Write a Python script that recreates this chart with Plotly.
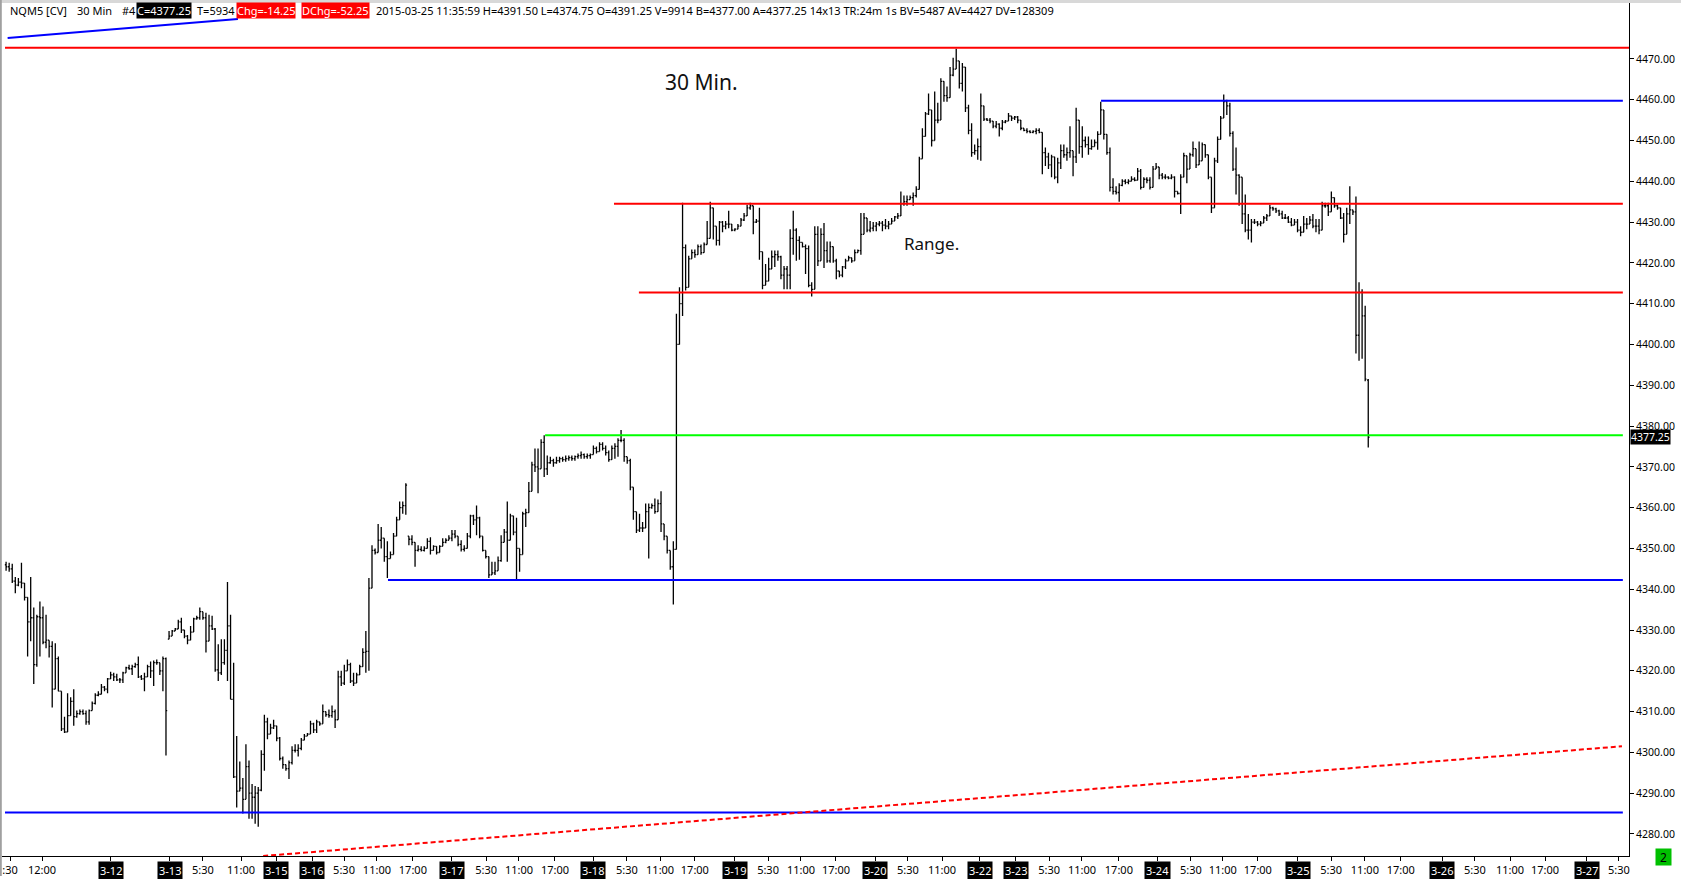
import plotly.graph_objects as go

# ---------------- data (30-min bars, index 1..444) ----------------
highs = [
4346.75,4346.5,4346.25,4343.0,4342.75,4346.5,4341.5,4338.0,4343.0,4335.5,
4333.75,4337.0,4335.75,4333.75,4327.5,4327.25,4326.75,4323.5,4315.0,4308.75,
4314.5,4313.5,4315.5,4310.25,4310.5,4310.5,4310.25,4310.5,4312.5,4314.5,
4315.0,4316.75,4316.25,4318.25,4319.75,4319.5,4319.25,4318.25,4319.75,4321.0,
4321.5,4321.5,4322.0,4323.5,4319.0,4319.5,4321.5,4322.25,4322.5,4322.75,
4322.0,4323.5,4323.25,4329.75,4330.0,4330.5,4332.5,4333.0,4330.0,4328.75,
4331.0,4333.0,4333.5,4335.5,4334.5,4334.25,4333.75,4333.5,4330.5,4326.5,
4327.75,4327.75,4341.75,4333.75,4322.0,4304.0,4297.75,4293.75,4302.0,4298.0,
4292.25,4291.75,4291.5,4300.5,4309.25,4308.5,4307.0,4308.0,4306.5,4303.75,
4299.0,4297.0,4298.0,4301.5,4302.0,4302.0,4303.5,4304.5,4304.75,4307.75,
4307.25,4308.0,4307.5,4311.75,4310.0,4310.5,4311.5,4310.5,4320.0,4320.0,
4321.5,4322.75,4322.0,4319.5,4319.5,4321.5,4325.5,4329.75,4342.75,4350.75,
4350.0,4356.0,4355.25,4352.5,4351.75,4349.25,4353.75,4357.75,4361.5,4361.5,
4366.0,4353.0,4353.25,4351.5,4350.75,4350.5,4350.5,4352.5,4352.75,4350.75,
4350.5,4350.75,4352.5,4352.5,4353.25,4354.5,4354.5,4353.0,4352.0,4350.75,
4353.75,4358.25,4358.25,4360.5,4357.75,4353.0,4349.5,4348.0,4346.75,4346.75,
4348.0,4353.25,4354.75,4361.5,4358.5,4358.0,4357.5,4350.0,4359.0,4359.75,
4366.25,4371.25,4374.5,4374.5,4376.75,4377.75,4372.75,4372.5,4372.0,4372.5,
4372.5,4372.5,4372.75,4372.75,4372.75,4372.75,4373.25,4373.75,4373.25,4373.25,
4373.25,4375.25,4375.0,4376.0,4376.0,4375.25,4374.0,4375.25,4375.75,4377.0,
4379.0,4377.0,4372.5,4372.0,4365.0,4359.0,4358.5,4356.5,4361.0,4361.0,
4361.0,4362.25,4362.0,4364.0,4356.0,4353.0,4349.5,4351.75,4407.5,4414.0,
4434.75,4424.5,4421.75,4423.25,4423.25,4424.5,4424.5,4425.0,4430.25,4435.0,
4433.5,4429.0,4430.25,4430.25,4430.25,4432.75,4429.5,4428.5,4429.5,4431.0,
4432.25,4434.25,4434.75,4434.0,4430.75,4433.5,4422.75,4419.75,4421.25,4423.0,
4423.0,4423.0,4421.75,4419.25,4419.25,4428.25,4432.75,4428.5,4426.5,4425.0,
4424.5,4424.25,4415.25,4429.0,4429.0,4428.5,4429.75,4425.25,4425.25,4424.0,
4421.0,4418.0,4419.25,4421.0,4421.75,4421.25,4423.25,4423.25,4432.25,4432.25,
4431.0,4430.25,4430.0,4430.0,4430.25,4430.25,4430.75,4430.25,4431.0,4431.5,
4432.25,4437.5,4436.5,4436.5,4436.5,4437.25,4438.75,4446.0,4453.0,4457.0,
4461.5,4457.5,4462.0,4459.25,4465.25,4464.5,4463.25,4468.0,4470.25,4472.5,
4469.5,4469.0,4468.0,4458.75,4454.25,4449.0,4450.5,4461.5,4458.5,4455.5,
4455.5,4454.75,4454.75,4454.25,4455.0,4455.0,4456.75,4456.0,4456.0,4456.0,
4455.0,4453.0,4453.0,4452.5,4452.5,4453.0,4453.0,4452.0,4448.25,4447.0,
4446.5,4446.0,4445.75,4449.0,4449.0,4448.25,4453.5,4447.5,4458.0,4455.0,
4453.5,4451.0,4451.0,4450.25,4450.25,4452.25,4459.5,4457.5,4451.5,4448.25,
4440.75,4438.75,4439.5,4440.5,4440.5,4440.5,4441.25,4441.0,4443.25,4443.0,
4441.0,4441.0,4441.0,4443.75,4444.5,4443.5,4442.0,4441.75,4441.25,4441.75,
4441.25,4437.5,4441.75,4447.0,4446.25,4447.0,4449.75,4448.0,4449.75,4449.5,
4449.0,4446.5,4441.0,4445.75,4451.0,4456.0,4461.25,4460.0,4459.25,4452.25,
4448.25,4441.75,4441.0,4436.75,4432.0,4430.75,4430.75,4430.25,4430.25,4431.5,
4432.0,4434.25,4433.75,4433.5,4433.0,4432.75,4432.0,4431.5,4431.0,4430.75,
4430.75,4429.0,4431.5,4431.0,4431.5,4432.0,4430.75,4430.75,4435.0,4434.75,
4434.75,4437.5,4436.0,4434.25,4433.5,4432.25,4433.5,4438.75,4433.0,4436.25,
4415.25,4413.5,4409.5,4391.5]

lows = [
4344.5,4344.25,4341.5,4339.0,4340.75,4340.25,4337.25,4323.5,4327.25,4316.75,
4321.0,4323.5,4326.5,4325.5,4323.25,4311.0,4315.5,4315.0,4305.25,4304.75,
4305.0,4309.0,4306.5,4308.5,4309.25,4309.25,4306.75,4306.75,4310.25,4311.75,
4313.75,4314.25,4315.0,4314.5,4318.0,4317.5,4317.5,4317.0,4317.0,4319.5,
4320.25,4319.0,4320.75,4318.25,4317.75,4315.0,4318.5,4318.25,4316.25,4321.5,
4319.0,4315.0,4299.25,4327.75,4328.5,4329.75,4330.25,4329.25,4328.0,4326.5,
4327.5,4329.5,4332.5,4332.5,4332.5,4324.5,4327.25,4330.0,4319.75,4317.5,
4319.0,4321.5,4317.5,4313.0,4293.75,4286.5,4290.5,4285.0,4288.5,4283.75,
4283.75,4282.5,4281.75,4290.5,4295.5,4303.25,4304.5,4305.75,4302.75,4298.0,
4296.0,4295.5,4293.5,4297.0,4300.0,4299.0,4300.5,4303.0,4304.0,4304.5,
4304.75,4304.75,4306.5,4307.0,4308.75,4308.5,4308.5,4306.0,4308.0,4316.25,
4316.5,4320.0,4317.0,4316.25,4317.0,4319.0,4321.0,4319.5,4320.0,4340.25,
4348.5,4349.0,4350.0,4346.75,4342.75,4347.5,4348.5,4353.0,4357.0,4358.5,
4358.25,4350.75,4350.75,4345.5,4349.25,4349.25,4349.25,4350.0,4348.5,4349.5,
4348.5,4349.0,4350.5,4351.25,4352.0,4351.75,4352.5,4350.5,4349.25,4349.25,
4350.0,4352.5,4355.75,4353.25,4352.5,4349.25,4347.5,4342.75,4343.5,4343.5,
4344.5,4346.75,4351.5,4346.75,4352.0,4353.25,4342.25,4344.25,4348.5,4355.25,
4358.75,4364.0,4368.75,4363.5,4369.5,4367.5,4368.0,4370.75,4370.0,4370.75,
4371.0,4371.25,4371.25,4371.5,4371.5,4371.5,4372.0,4372.0,4372.0,4372.0,
4372.0,4373.0,4373.25,4373.75,4374.0,4372.75,4371.25,4371.75,4372.0,4372.5,
4376.0,4371.25,4370.75,4364.25,4357.0,4353.75,4354.0,4354.0,4355.0,4347.5,
4359.75,4358.5,4359.0,4354.0,4352.0,4348.75,4344.75,4336.25,4349.75,4400.0,
4407.0,4413.25,4414.0,4421.0,4421.25,4422.0,4422.0,4422.5,4424.5,4426.0,
4425.75,4424.25,4424.25,4427.5,4428.25,4428.5,4427.75,4427.75,4428.25,4429.0,
4430.25,4431.5,4433.0,4427.0,4429.75,4420.75,4413.5,4414.5,4415.5,4418.5,
4419.0,4420.5,4416.0,4413.5,4413.5,4413.5,4422.0,4420.5,4420.75,4423.75,
4417.25,4414.0,4411.75,4413.5,4419.25,4420.5,4418.75,4420.0,4420.0,4420.0,
4416.0,4416.5,4416.5,4418.5,4420.5,4420.0,4420.5,4422.5,4422.0,4427.0,
4427.5,4427.5,4427.75,4427.75,4429.0,4427.75,4428.25,4428.25,4429.5,4430.25,
4430.75,4431.5,4434.0,4434.0,4435.5,4434.0,4436.0,4438.0,4445.5,4451.0,
4456.25,4448.5,4450.0,4454.25,4455.0,4459.5,4459.5,4460.5,4465.75,4467.5,
4462.75,4462.0,4457.0,4451.5,4446.0,4446.5,4445.25,4445.0,4454.75,4454.75,
4454.25,4453.0,4453.0,4451.0,4452.5,4454.25,4454.75,4454.75,4455.0,4454.25,
4452.5,4452.25,4451.75,4451.75,4451.75,4451.5,4451.75,4441.75,4443.75,4443.0,
4441.0,4440.5,4439.5,4443.0,4445.75,4445.0,4445.75,4441.25,4444.5,4446.75,
4445.75,4448.25,4446.5,4447.75,4448.5,4447.75,4451.5,4450.25,4446.5,4437.5,
4436.75,4436.75,4435.0,4438.75,4439.25,4439.25,4440.0,4440.0,4440.25,4438.0,
4438.5,4439.5,4438.0,4438.5,4443.0,4440.5,4440.5,4440.5,4440.5,4440.5,
4436.0,4436.75,4432.0,4441.0,4439.5,4443.0,4446.0,4443.25,4444.0,4445.0,
4445.75,4440.5,4432.25,4433.5,4444.5,4450.25,4455.5,4456.25,4451.0,4442.5,
4436.75,4434.0,4429.5,4427.5,4425.75,4425.0,4429.5,4429.0,4429.0,4429.75,
4430.25,4431.5,4432.75,4432.25,4431.5,4430.75,4430.75,4429.75,4429.0,4429.25,
4427.5,4426.5,4427.5,4428.25,4429.5,4428.5,4427.5,4427.0,4428.0,4433.5,
4431.5,4432.5,4433.5,4433.0,4430.75,4425.0,4427.0,4429.5,4431.75,4397.75,
4396.0,4396.5,4391.0,4374.75]

closes = [
4345.5,4345.0,4342.0,4341.0,4341.75,4341.5,4338.0,4332.0,4333.0,4321.5,
4333.25,4333.0,4327.0,4327.5,4326.0,4315.5,4323.0,4315.0,4305.75,4305.0,
4309.0,4312.5,4308.75,4309.5,4310.0,4309.5,4307.5,4310.25,4312.0,4314.0,
4314.25,4316.0,4315.5,4318.0,4319.0,4318.5,4317.75,4317.75,4319.5,4320.75,
4320.5,4321.0,4321.5,4318.5,4318.0,4318.5,4321.0,4320.0,4322.0,4322.0,
4320.0,4323.0,4310.25,4328.5,4329.75,4330.25,4332.0,4330.0,4328.5,4327.5,
4329.5,4332.75,4333.0,4334.5,4333.0,4327.25,4331.0,4330.25,4320.25,4319.5,
4322.0,4325.0,4331.0,4313.0,4294.0,4290.5,4291.25,4288.5,4296.5,4290.0,
4289.0,4290.0,4290.75,4299.5,4307.5,4304.5,4306.0,4306.5,4303.5,4298.5,
4297.0,4296.0,4297.5,4300.5,4300.5,4301.0,4303.0,4304.0,4304.5,4307.0,
4305.5,4307.5,4307.0,4310.0,4309.25,4309.0,4310.0,4308.0,4318.5,4317.0,
4320.0,4321.5,4317.5,4317.0,4319.0,4321.0,4324.5,4324.75,4340.25,4349.5,
4349.0,4352.0,4352.5,4348.0,4347.5,4348.5,4353.0,4357.0,4360.0,4360.5,
4365.5,4352.25,4351.5,4349.5,4349.75,4349.5,4350.0,4351.75,4349.5,4350.5,
4349.0,4350.5,4351.5,4352.0,4352.5,4353.5,4353.0,4351.0,4349.75,4350.0,
4353.0,4358.0,4357.0,4357.5,4353.0,4349.5,4348.0,4343.5,4344.0,4344.5,
4347.0,4351.5,4354.0,4352.0,4358.0,4354.0,4350.0,4348.5,4358.5,4358.75,
4364.0,4370.5,4370.0,4369.5,4376.0,4369.5,4371.0,4371.5,4371.0,4371.5,
4372.0,4371.75,4372.0,4372.25,4372.0,4372.5,4372.75,4373.0,4372.5,4372.75,
4373.0,4374.5,4373.75,4375.5,4374.5,4373.5,4371.75,4374.5,4375.0,4376.5,
4376.5,4372.5,4371.5,4365.0,4359.0,4354.5,4355.0,4355.0,4359.0,4360.0,
4360.5,4359.0,4361.0,4356.0,4353.0,4349.5,4345.5,4349.75,4400.0,4410.0,
4423.75,4414.0,4421.0,4422.5,4422.0,4424.0,4422.5,4424.5,4426.0,4433.5,
4429.0,4425.5,4430.0,4429.0,4429.5,4429.5,4428.0,4428.25,4429.0,4430.5,
4431.5,4433.5,4434.0,4430.0,4430.25,4422.75,4414.5,4415.5,4418.5,4421.5,
4422.0,4421.5,4417.0,4418.5,4417.0,4426.0,4428.0,4425.5,4425.0,4424.0,
4423.5,4414.5,4413.5,4427.0,4420.5,4427.0,4423.0,4420.5,4424.0,4420.5,
4418.0,4417.0,4419.0,4420.5,4421.25,4420.5,4422.5,4423.0,4427.0,4431.0,
4428.0,4428.5,4429.0,4429.5,4429.75,4429.25,4429.0,4429.5,4430.25,4431.25,
4431.5,4434.5,4435.0,4435.5,4436.0,4436.5,4438.0,4445.5,4451.0,4456.5,
4457.5,4450.0,4455.0,4455.0,4464.5,4461.0,4460.5,4466.0,4467.5,4469.5,
4464.0,4468.0,4458.0,4452.5,4447.0,4447.5,4448.5,4458.5,4455.25,4455.0,
4454.75,4453.5,4454.0,4453.0,4454.5,4454.75,4456.0,4455.5,4455.75,4455.0,
4453.0,4452.5,4452.25,4452.0,4452.25,4452.5,4452.0,4447.0,4446.0,4444.0,
4446.0,4441.0,4444.5,4447.5,4446.5,4447.0,4447.5,4446.0,4455.0,4448.5,
4450.0,4449.0,4448.0,4448.5,4449.5,4451.5,4457.5,4451.5,4447.0,4438.5,
4437.5,4437.25,4439.0,4440.0,4439.75,4440.0,4440.5,4440.25,4442.5,4438.5,
4440.5,4440.25,4438.5,4443.0,4443.5,4441.5,4441.0,4441.0,4440.75,4441.0,
4437.5,4437.0,4441.0,4446.25,4443.0,4446.5,4448.0,4444.0,4445.0,4449.0,
4446.5,4441.0,4433.5,4445.0,4450.25,4455.5,4459.5,4458.5,4451.75,4443.0,
4441.5,4441.0,4432.0,4428.0,4428.0,4430.0,4430.0,4429.5,4429.75,4431.0,
4431.5,4433.5,4433.25,4432.75,4432.0,4431.0,4431.0,4430.0,4429.25,4430.0,
4428.0,4427.5,4429.5,4429.5,4430.5,4429.0,4429.0,4428.0,4434.0,4434.0,
4432.5,4436.0,4434.0,4433.5,4431.0,4427.0,4432.0,4433.0,4432.5,4402.25,
4412.75,4407.0,4391.5,4377.25]

first_open = 4346.0
bar_index = list(range(1, len(closes) + 1))

# opens: each bar opens at the previous close (kept within the bar's range)
opens = [first_open]
for k in range(1, len(closes)):
    opens.append(min(max(closes[k - 1], lows[k]), highs[k]))
opens[-1] = 4391.25

# x-axis ticks (bar index positions) and labels
time_tick_pos = [2.3, 12.7, 65.0, 77.4, 110.9, 121.6, 133.3, 157.1, 167.8, 179.5,
                 202.9, 213.7, 225.0, 248.8, 259.5, 270.9, 294.3, 305.4, 340.2, 350.9,
                 362.9, 386.3, 396.7, 408.1, 431.9, 442.9, 454.6, 478.7, 490.1, 501.5, 525.5]
time_tick_text = [":30", "12:00", "5:30", "11:00", "5:30", "11:00", "17:00", "5:30", "11:00", "17:00",
                  "5:30", "11:00", "17:00", "5:30", "11:00", "17:00", "5:30", "11:00", "5:30", "11:00",
                  "17:00", "5:30", "11:00", "17:00", "5:30", "11:00", "17:00", "5:30", "11:00", "17:00", "5:30"]
date_tick_pos = [35.1, 54.3, 88.8, 100.5, 146.0, 191.9, 238.0, 283.6, 317.7, 329.4,
                 375.6, 421.1, 468.0, 515.1]
date_tick_text = ["3-12", "3-13", "3-15", "3-16", "3-17", "3-18", "3-19", "3-20", "3-22", "3-23",
                  "3-24", "3-25", "3-26", "3-27"]

price_ticks = [4280, 4290, 4300, 4310, 4320, 4330, 4340, 4350, 4360, 4370,
               4380, 4390, 4400, 4410, 4420, 4430, 4440, 4450, 4460, 4470]

# drawn study lines: (x_start, x_end, price)
red_levels = [(0.65, 528.8, 4472.75), (198.7, 526.8, 4434.5), (206.8, 526.8, 4412.75)]
blue_levels = [(357.1, 526.8, 4459.75), (125.2, 526.8, 4342.25), (0.65, 526.8, 4285.25)]
green_levels = [(176.3, 526.8, 4377.75)]
red_dashed_trend = (84.6, 4274.6, 526.5, 4301.5)
blue_trend = (1.5, 4475.1, 76.4, 4479.8)

last_price = 4377.25

# ---------------- figure ----------------
W, H = 1681, 879
ML, MR, MT, MB = 2, 52, 3, 20
PW, PH = W - ML - MR, H - MT - MB


def px_x(px):
    return (px - ML) / PW


def px_y(py):
    return 1 - (py - MT) / PH


FONT = "Noto Sans"

fig = go.Figure()
fig.add_trace(go.Ohlc(
    x=bar_index, open=opens, high=highs, low=lows, close=closes,
    increasing=dict(line=dict(color="black", width=1.3)),
    decreasing=dict(line=dict(color="black", width=1.3)),
    tickwidth=0.4, hoverinfo="skip", showlegend=False,
))

shapes = []
for x0, x1, p in red_levels:
    shapes.append(dict(type="line", xref="x", yref="y", x0=x0, x1=x1, y0=p, y1=p,
                       line=dict(color="#ff0000", width=2)))
for x0, x1, p in blue_levels:
    shapes.append(dict(type="line", xref="x", yref="y", x0=x0, x1=x1, y0=p, y1=p,
                       line=dict(color="#0000ff", width=2)))
for x0, x1, p in green_levels:
    shapes.append(dict(type="line", xref="x", yref="y", x0=x0, x1=x1, y0=p, y1=p,
                       line=dict(color="#00ff00", width=2)))
shapes.append(dict(type="line", xref="x", yref="y",
                   x0=red_dashed_trend[0], y0=red_dashed_trend[1],
                   x1=red_dashed_trend[2], y1=red_dashed_trend[3],
                   line=dict(color="#ff0000", width=2, dash="5px,3px")))
shapes.append(dict(type="line", xref="x", yref="y",
                   x0=blue_trend[0], y0=blue_trend[1], x1=blue_trend[2], y1=blue_trend[3],
                   line=dict(color="#0000ff", width=2)))
# window frame (top / left grey border)
shapes.append(dict(type="line", xref="paper", yref="paper", x0=px_x(0), x1=px_x(W), y0=px_y(1.5), y1=px_y(1.5),
                   line=dict(color="#d8d8d8", width=3), layer="above"))
shapes.append(dict(type="line", xref="paper", yref="paper", x0=px_x(0.8), x1=px_x(0.8), y0=px_y(0), y1=px_y(H),
                   line=dict(color="#a0a0a0", width=2), layer="above"))

annotations = []
# date labels on the time axis
for pos, txt in zip(date_tick_pos, date_tick_text):
    annotations.append(dict(x=pos, xref="x", y=0, yref="paper", yanchor="top", yshift=-5,
                            text=txt, showarrow=False, bgcolor="black", borderpad=1,
                            font=dict(family=FONT, size=11, color="white")))

# header line
hy = px_y(11)
header = [
    (9, "NQM5 [CV]", None, "black"),
    (76, "30 Min", None, "black"),
    (121, "#4", None, "black"),
    (136, "C=4377.25", "black", "white"),
    (196, "T=5934", None, "black"),
    (236, "Chg=-14.25", "#ff0000", "white"),
    (301, "DChg=-52.25", "#ff0000", "white"),
    (375, "2015-03-25 11:35:59 H=4391.50 L=4374.75 O=4391.25 V=9914 B=4377.00 "
          "A=4377.25 14x13 TR:24m 1s BV=5487 AV=4427 DV=128309", None, "black"),
]
for px, txt, bg, col in header:
    a = dict(x=px_x(px), xref="paper", y=hy, yref="paper", xanchor="left", yanchor="middle",
             text=txt, showarrow=False, borderpad=0,
             font=dict(family=FONT, size=11, color=col))
    if bg:
        a["bgcolor"] = bg
    annotations.append(a)

# chart notes
annotations.append(dict(x=227.3, y=4464.3, xref="x", yref="y", text="30 Min.", showarrow=False,
                        font=dict(family=FONT, size=21, color="#111111")))
annotations.append(dict(x=301.9, y=4424.7, xref="x", yref="y", text="Range.", showarrow=False,
                        font=dict(family=FONT, size=17, color="#111111")))

# last-price marker on price axis
annotations.append(dict(x=1, xref="paper", y=last_price, yref="y", xanchor="left", yanchor="middle",
                        xshift=1, text=f"{last_price:.2f}", showarrow=False, bgcolor="black",
                        borderpad=0, font=dict(family=FONT, size=10.5, color="white")))
# green status box
annotations.append(dict(x=px_x(1671.5), xref="paper", y=px_y(869), yref="paper", text="2",
                        showarrow=False, bgcolor="#00c000", borderpad=0, width=15, height=16,
                        font=dict(family=FONT, size=12, color="black")))

fig.update_layout(
    width=W, height=H, margin=dict(l=ML, r=MR, t=MT, b=MB),
    paper_bgcolor="white", plot_bgcolor="white",
    shapes=shapes, annotations=annotations, showlegend=False,
    font=dict(family=FONT, size=11, color="black"),
    xaxis=dict(range=[-0.33, 528.8], rangeslider=dict(visible=False),
               showgrid=False, zeroline=False, showline=True, linecolor="black", linewidth=1,
               ticks="outside", ticklen=4, tickcolor="black",
               tickvals=time_tick_pos + date_tick_pos,
               ticktext=time_tick_text + [""] * len(date_tick_pos),
               tickfont=dict(family=FONT, size=11, color="black")),
    yaxis=dict(range=[4274.6, 4483.7], side="right", showgrid=False, zeroline=False,
               showline=True, linecolor="black", linewidth=1,
               ticks="outside", ticklen=4, tickcolor="black",
               tickvals=price_ticks, ticktext=[f"{v:.2f}" for v in price_ticks],
               tickfont=dict(family=FONT, size=10.5, color="black")),
    hovermode=False,
)

fig.write_html("out.html", config={"displayModeBar": False},
               post_script="document.body.style.margin='0px';document.body.style.overflow='hidden';")
